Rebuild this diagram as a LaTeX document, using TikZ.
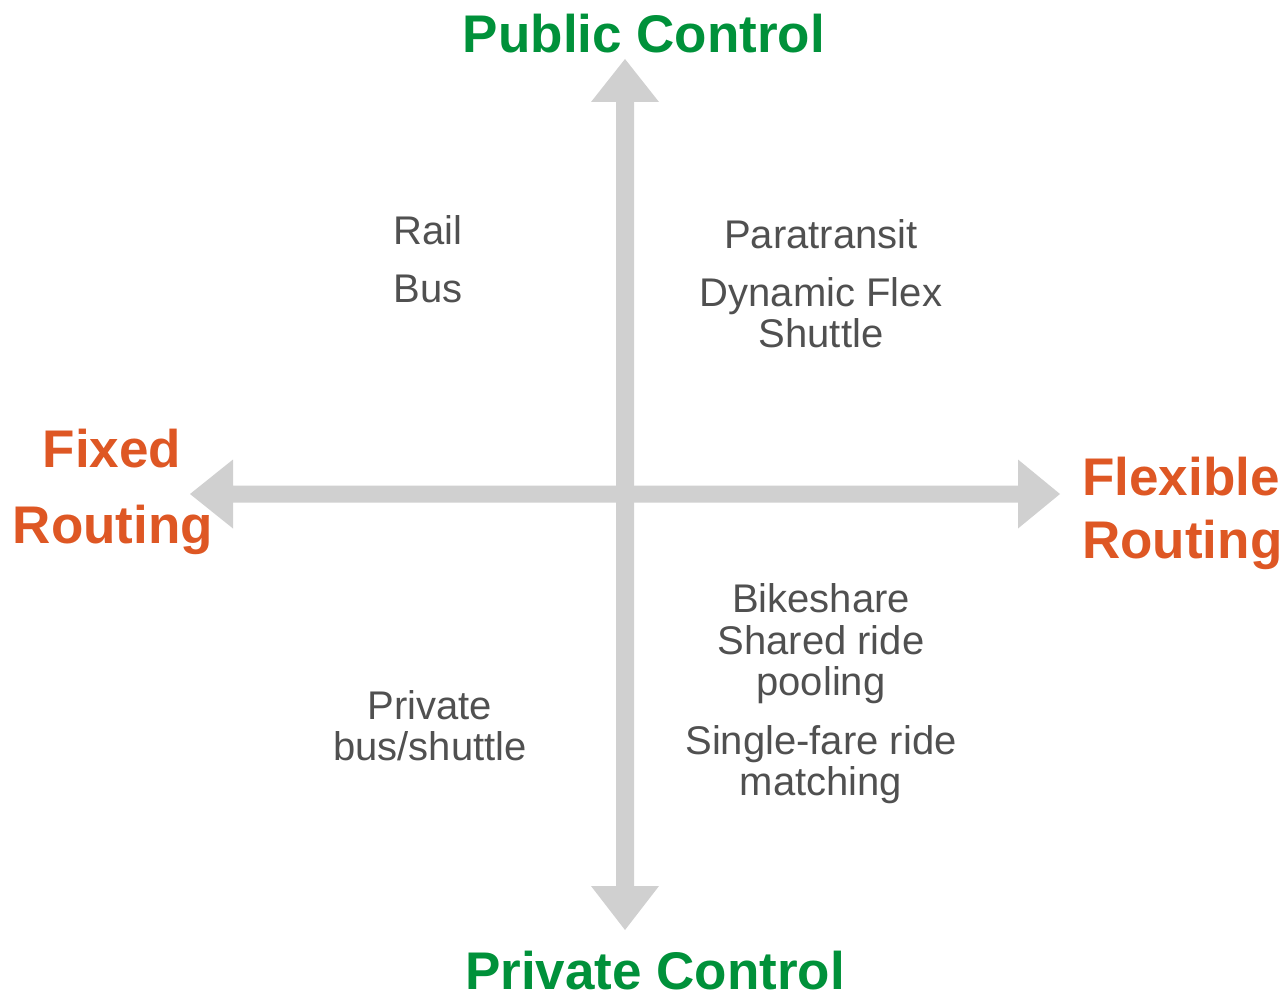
\documentclass[tikz,border=0pt]{standalone}
\usepackage{fontspec}
\setmainfont{Liberation Sans}
\definecolor{axisgray}{HTML}{D0D0D0}
\definecolor{pubgreen}{HTML}{00913A}
\definecolor{routeorange}{HTML}{DE5724}
\definecolor{itemgray}{HTML}{505050}
\begin{document}
\begin{tikzpicture}[x=1pt,y=-1pt,
  bigtitle/.style={anchor=base,inner sep=0pt,font=\fontsize{53}{60}\selectfont\bfseries},
  ctrl/.style={bigtitle,text=pubgreen},
  route/.style={bigtitle,text=routeorange},
  item/.style={anchor=base,inner sep=0pt,text=itemgray,font=\fontsize{40}{42}\selectfont}]
\useasboundingbox (0,0) rectangle (1282,995);
% horizontal axis
\fill[axisgray] (190,494) -- (233,459.5) -- (233,485.5) -- (1018,485.5) -- (1018,459.5)
  -- (1060,494) -- (1018,528.5) -- (1018,502.5) -- (233,502.5) -- (233,528.5) -- cycle;
% vertical axis
\fill[axisgray] (625,59) -- (659,102) -- (634,102) -- (634,886) -- (659,886)
  -- (625,930) -- (591,886) -- (616,886) -- (616,102) -- (591,102) -- cycle;
% axis titles
\node[ctrl] (pub) at (644,53) {Public Control};
\node[ctrl] (priv) at (655,989.5) {Private Control};
\node[route] (fixed) at (112,467) {Fixed};
\node[route] (fixedr) at (113,543) {Routing};
\node[route,anchor=base west] (flex) at (1082,495) {Flexible};
\node[route,anchor=base west] (flexr) at (1082,558) {Routing};
% quadrant items
\node[item] (rail) at (428,244) {Rail};
\node[item] (bus) at (428,302) {Bus};
\node[item] (para) at (821,248) {Paratransit};
\node[item] (dyn1) at (821,306) {Dynamic Flex};
\node[item] (dyn2) at (821,347) {Shuttle};
\node[item] (bike) at (821,612) {Bikeshare};
\node[item] (shr1) at (821,654) {Shared ride};
\node[item] (shr2) at (821,695) {pooling};
\node[item] (sgl1) at (821,754) {Single-fare ride};
\node[item] (sgl2) at (821,795) {matching};
\node[item] (prv1) at (430,719) {Private};
\node[item] (prv2) at (430,760) {bus/shuttle};
\end{tikzpicture}
\end{document}
